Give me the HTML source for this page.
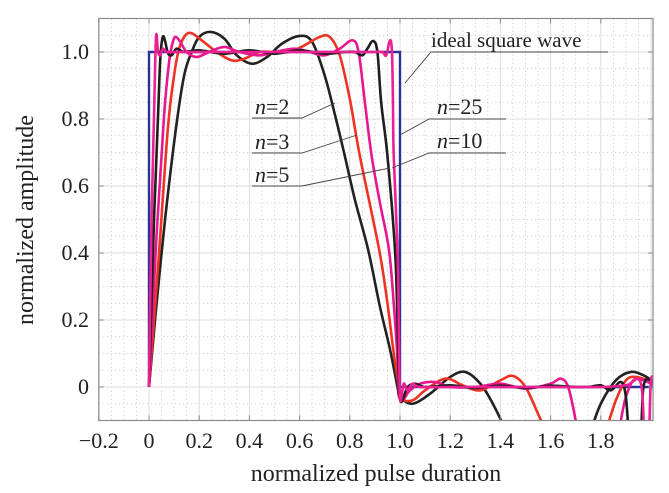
<!DOCTYPE html>
<html><head><meta charset="utf-8"><style>
html,body{margin:0;padding:0;background:#fff;}
svg{display:block;font-family:"Liberation Serif",serif;}
</style></head><body>
<svg id="chart" width="669" height="493" viewBox="0 0 669 493" xmlns="http://www.w3.org/2000/svg">
<defs><clipPath id="pc"><rect x="98.8" y="18.5" width="554.2" height="402"/></clipPath></defs>
<g id="grid"></g>
<g id="series" clip-path="url(#pc)"></g>
<rect x="98.8" y="18.5" width="554.2" height="402" fill="none" stroke="#8a8a8a" stroke-width="1.2"/>
<g id="ticks"></g>
<g font-size="22" fill="#222" stroke="none">
<g>
<text x="431" y="47" font-size="21">ideal square wave</text>
<polyline points="608,52 431,52 405,83" fill="none" stroke="#444" stroke-width="0.9"/></g>
<g>
<text x="255" y="114"><tspan font-style="italic">n</tspan>=2</text>
<polyline points="252,118 302,118 335,103" fill="none" stroke="#444" stroke-width="0.9"/></g>
<g>
<text x="255" y="149"><tspan font-style="italic">n</tspan>=3</text>
<polyline points="252,153 302,153 357,135" fill="none" stroke="#444" stroke-width="0.9"/></g>
<g>
<text x="255" y="182"><tspan font-style="italic">n</tspan>=5</text>
<polyline points="252,186 302,186 390,168" fill="none" stroke="#444" stroke-width="0.9"/></g>
<g>
<text x="437" y="114"><tspan font-style="italic">n</tspan>=25</text>
<polyline points="506,119 429,119 400,135" fill="none" stroke="#444" stroke-width="0.9"/></g>
<g>
<text x="437" y="148"><tspan font-style="italic">n</tspan>=10</text>
<polyline points="506,153 429,153 392,168" fill="none" stroke="#444" stroke-width="0.9"/></g>
</g>
<text x="376" y="481" font-size="24" text-anchor="middle" fill="#222">normalized pulse duration</text>
<text transform="translate(33,220) rotate(-90)" font-size="24" text-anchor="middle" fill="#222">normalized amplitude</text>
</svg>
<script>
const xTicks=[-0.2,0,0.2,0.4,0.6,0.8,1.0,1.2,1.4,1.6,1.8];
const xTickLabels=["\u22120.2","0","0.2","0.4","0.6","0.8","1.0","1.2","1.4","1.6","1.8"];
const yTicks=[0,0.2,0.4,0.6,0.8,1.0];
const yTickLabels=["0","0.2","0.4","0.6","0.8","1.0"];
const idealX=[0,0,1,1,2.05];
const idealY=[0,1,1,0,0];
const n2X=[0,0.024,0.064,0.107,0.14,0.17,0.2,0.246,0.3,0.35,0.41,0.47,0.53,0.6,0.65,0.7,0.745,0.78,0.82,0.873,0.92,0.96,0.99,1.0,1.05,1.12,1.2,1.26,1.32,1.37,1.42,1.45,1.72,1.76,1.8,1.86,1.92,1.97,2.0,2.02];
const n2Y=[0,0.2,0.5,0.77,0.93,1.0,1.045,1.06,1.04,0.99,0.965,0.985,1.025,1.048,1.03,0.93,0.8,0.69,0.56,0.41,0.24,0.113,0.0,-0.03,-0.05,-0.02,0.03,0.045,0.01,-0.05,-0.13,-0.2,-0.2,-0.13,-0.05,0.02,0.045,0.035,0.02,0.0];
const n3X=[0,0.04,0.075,0.1,0.12,0.145,0.17,0.21,0.27,0.33,0.38,0.44,0.5,0.56,0.62,0.68,0.72,0.76,0.8,0.84,0.917,0.95,0.973,0.995,1.0,1.05,1.1,1.18,1.25,1.32,1.4,1.45,1.5,1.55,1.58,1.62,1.78,1.82,1.86,1.9,1.94,2.0,2.02];
const n3Y=[0,0.4,0.77,0.93,1.01,1.05,1.056,1.035,1.0,0.975,0.98,1.0,1.0,1.0,1.02,1.045,1.045,0.99,0.86,0.69,0.41,0.25,0.113,0.0,-0.035,-0.04,-0.01,0.025,0.005,-0.01,0.02,0.033,0.0,-0.08,-0.13,-0.2,-0.2,-0.13,-0.04,0.02,0.03,0.015,0.0];
const n5X=[0,0.03,0.06,0.08,0.095,0.107,0.125,0.15,0.19,0.24,0.3,0.36,0.44,0.5,0.58,0.64,0.7,0.76,0.81,0.835,0.86,0.887,0.92,0.956,0.975,0.988,1.0,1.04,1.08,1.14,1.2,1.3,1.4,1.5,1.6,1.64,1.67,1.7,1.72,1.86,1.88,1.9,1.93,1.97,2.0,2.02];
const n5Y=[0,0.45,0.81,0.97,1.03,1.045,1.03,1.0,0.985,1.0,1.015,1.0,0.99,1.0,1.01,1.0,0.99,1.01,1.035,1.0,0.85,0.69,0.55,0.41,0.25,0.113,-0.035,-0.01,0.01,0.015,0.0,0.0,0.01,-0.005,0.01,0.025,0.0,-0.1,-0.2,-0.2,-0.1,-0.03,0.02,0.02,0.01,0.0];
const n10X=[0,0.02,0.036,0.045,0.055,0.065,0.075,0.09,0.11,0.14,0.2,0.3,0.4,0.5,0.6,0.7,0.78,0.82,0.85,0.87,0.893,0.91,0.925,0.95,0.98,0.99,1.0,1.03,1.06,1.1,1.2,1.3,1.4,1.5,1.6,1.7,1.75,1.8,1.84,1.88,1.9,1.92,1.955,1.97,2.0,2.02];
const n10Y=[0,0.5,0.81,0.98,1.045,1.03,0.997,0.99,1.01,1.0,1.005,0.995,1.005,0.995,1.005,0.995,1.0,1.0,0.99,1.01,1.033,1.0,0.85,0.69,0.41,0.2,-0.035,0.0,0.01,0.0,0.005,-0.003,0.004,-0.003,0.004,0.0,0.0,0.005,-0.01,0.015,-0.03,-0.2,-0.2,0.0,0.02,0.0];
const n25X=[0,0.01,0.02,0.028,0.036,0.045,0.055,0.07,0.1,0.2,0.3,0.4,0.5,0.6,0.7,0.8,0.9,0.93,0.945,0.96,0.968,0.972,0.975,0.99,0.995,1.0,1.015,1.03,1.05,1.08,1.2,1.4,1.6,1.8,1.9,1.96,1.975,1.99,2.0,2.02];
const n25Y=[0,0.5,0.81,1.045,1.0,0.99,1.01,1.0,1.0,1.0,1.0,1.0,1.0,1.0,1.0,1.0,1.0,1.0,0.99,1.035,1.0,0.85,0.69,0.41,0.2,-0.035,0.01,-0.01,0.01,0.0,0.0,0.0,0.0,0.0,0.005,0.01,-0.2,-0.2,0.02,0.0];

const X0=-0.2,X1=2.008,Y0=-0.1,Y1=1.1,L=98.8,R=653,T=18.5,B=420.5;
function sx(v){return L+(v-X0)/(X1-X0)*(R-L);}
function sy(v){return B-(v-Y0)/(Y1-Y0)*(B-T);}
const NS="http://www.w3.org/2000/svg";
function mk(tag,attrs,parent){const e=document.createElementNS(NS,tag);for(const k in attrs)e.setAttribute(k,attrs[k]);parent.appendChild(e);return e;}
const grid=document.getElementById('grid'),ticks=document.getElementById('ticks'),series=document.getElementById('series');
for(let i=0;i<=44;i++){const v=X0+i*0.05;if(v>X1)break;const x=sx(v);
 const ln=mk('line',{x1:x,x2:x,y1:T,y2:B,stroke:(i%4===0)?'#dcdcdc':'#cfcfcf','stroke-width':(i%4===0)?1:0.8,'stroke-dasharray':(i%4===0)?'':'1.5,2.5'},grid);
 
 }
for(let i=0;i<=24;i++){const v=Y0+i*0.05;const y=sy(v);const major=(i%4===2);
 const ln=mk('line',{x1:L,x2:R,y1:y,y2:y,stroke:major?'#dcdcdc':'#cfcfcf','stroke-width':major?1:0.8,'stroke-dasharray':major?'':'1.5,2.5'},grid);
 
 }
xTicks.forEach((v,i)=>{const x=sx(v);
 mk('line',{x1:x,x2:x,y1:B,y2:B-5,stroke:'#888'},ticks);
 mk('line',{x1:x,x2:x,y1:T,y2:T+5,stroke:'#888'},ticks);
 const t=mk('text',{x:x,y:448,'font-size':22,'text-anchor':'middle',fill:'#222'},ticks);t.textContent=xTickLabels[i];
 
 });
yTicks.forEach((v,i)=>{const y=sy(v);
 mk('line',{x1:L,x2:L+5,y1:y,y2:y,stroke:'#888'},ticks);
 mk('line',{x1:R,x2:R-5,y1:y,y2:y,stroke:'#888'},ticks);
 const t=mk('text',{x:89,y:y+7,'font-size':22,'text-anchor':'end',fill:'#222'},ticks);t.textContent=yTickLabels[i];
 
 });
function smooth(xs,ys){const p=xs.map((v,i)=>[sx(v),sy(ys[i])]);let d='M'+p[0][0].toFixed(2)+','+p[0][1].toFixed(2);
 for(let i=0;i<p.length-1;i++){const p0=p[Math.max(0,i-1)],p1=p[i],p2=p[i+1],p3=p[Math.min(p.length-1,i+2)];
  const c1=[p1[0]+(p2[0]-p0[0])/6,p1[1]+(p2[1]-p0[1])/6],c2=[p2[0]-(p3[0]-p1[0])/6,p2[1]-(p3[1]-p1[1])/6];
  d+=' C'+c1.map(n=>n.toFixed(2)).join(',')+' '+c2.map(n=>n.toFixed(2)).join(',')+' '+p2[0].toFixed(2)+','+p2[1].toFixed(2);}
 return d;}
const ideal=mk('polyline',{points:idealX.map((v,i)=>sx(v)+','+sy(idealY[i])).join(' '),fill:'none',stroke:'#2b3195','stroke-width':2.4},series);


const defs=[[n2X,n2Y,'#222222','series-n2-line'],[n3X,n3Y,'#ee3224','series-n3-line'],[n5X,n5Y,'#e6178f','series-n5-line'],[n10X,n10Y,'#1e1e1e','series-n10-line'],[n25X,n25Y,'#ec1f93','series-n25-line']];
defs.forEach(s=>{const p=mk('path',{d:smooth(s[0],s[1]),fill:'none',stroke:s[2],'stroke-width':2.6,'stroke-linejoin':'round'},series);
 
 });
</script>
</body></html>
